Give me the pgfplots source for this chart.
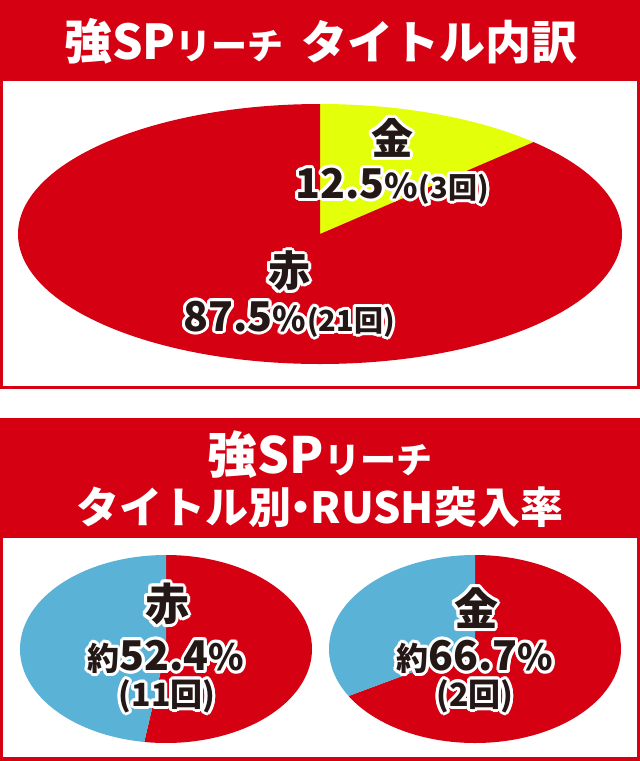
\documentclass[border=0pt]{standalone}
\usepackage{pgfplots}
\pgfplotsset{compat=1.18}
\usepackage{pgfplotstable}
\usepackage{fontspec}
\setmainfont{Noto Sans CJK JP}

\definecolor{spred}{RGB}{213,0,18}
\definecolor{spgold}{RGB}{228,255,10}
\definecolor{spblue}{RGB}{90,178,214}
\definecolor{spink}{RGB}{35,24,21}

% title breakdown (times)
\pgfplotstableread{
label value
gold 3
red 21
}\tabtitle
% RUSH entry, red title: rush / no rush
\pgfplotstableread{
label value
rush 11
none 10
}\tabred
% RUSH entry, gold title
\pgfplotstableread{
label value
rush 2
none 1
}\tabgold

% first-slice end angle (clockwise from 12 o'clock)
\newcommand\pieangle[2]{%
  \pgfplotstablegetelem{0}{value}\of#1\let\va\pgfplotsretval
  \pgfplotstablegetelem{1}{value}\of#1\let\vb\pgfplotsretval
  \pgfmathsetmacro#2{90-360*\va/(\va+\vb)}}

% black label with white rim
\newcommand\halo[2]{%
  \foreach \a in {0,22.5,...,337.5}
    \node[text=white,shift={(\a:3pt)}] at #1 {#2};
  \node[text=spink] at #1 {#2};}

\newcommand\fs[1]{\fontsize{#1}{#1}\selectfont}

\begin{document}
\begin{tikzpicture}
\useasboundingbox (0pt,0pt) rectangle (640pt,-761pt);
\begin{scope}[x=1pt,y=-1pt]
  \fill[white] (0,0) rectangle (640,761);
  \fill[spred] (0,0) rectangle (640,389);
  \fill[white] (3,81) rectangle (637,386);
  \fill[spred] (0,418) rectangle (640,761);
  \fill[white] (3,538) rectangle (637,757);
\end{scope}

\pieangle{\tabtitle}{\angA}
\pieangle{\tabred}{\angB}
\pieangle{\tabgold}{\angC}

\begin{axis}[at={(320pt,-234pt)},anchor=origin,scale only axis,
  width=604pt,height=260pt,xmin=-1,xmax=1,ymin=-1,ymax=1,
  axis lines=none,clip=false]
  \fill[spgold] (axis cs:0,0) -- (axis cs:0,1)
    arc[start angle=90,end angle=\angA,x radius=1,y radius=1] -- cycle;
  \fill[spred] (axis cs:0,0) -- (axis cs:{cos(\angA)},{sin(\angA)})
    arc[start angle=\angA,end angle=-270,x radius=1,y radius=1] -- cycle;
\end{axis}

\begin{axis}[at={(166pt,-649pt)},anchor=origin,scale only axis,
  width=292pt,height=188pt,xmin=-1,xmax=1,ymin=-1,ymax=1,
  axis lines=none,clip=false]
  \fill[spred] (axis cs:0,0) -- (axis cs:0,1)
    arc[start angle=90,end angle=\angB,x radius=1,y radius=1] -- cycle;
  \fill[spblue] (axis cs:0,0) -- (axis cs:{cos(\angB)},{sin(\angB)})
    arc[start angle=\angB,end angle=-270,x radius=1,y radius=1] -- cycle;
\end{axis}

\begin{axis}[at={(475pt,-649pt)},anchor=origin,scale only axis,
  width=292pt,height=188pt,xmin=-1,xmax=1,ymin=-1,ymax=1,
  axis lines=none,clip=false]
  \fill[spred] (axis cs:0,0) -- (axis cs:0,1)
    arc[start angle=90,end angle=\angC,x radius=1,y radius=1] -- cycle;
  \fill[spblue] (axis cs:0,0) -- (axis cs:{cos(\angC)},{sin(\angC)})
    arc[start angle=\angC,end angle=-270,x radius=1,y radius=1] -- cycle;
\end{axis}

\begin{scope}[x=1pt,y=-1pt,every node/.style={inner sep=0pt,font=\bfseries}]
  % titles
  \node[text=white] at (321,41) {\fs{48}強SP\fs{36}リーチ\hspace{18pt}\fs{46}タイトル内訳};
  \node[text=white] at (320,455) {\fs{50}強SP\fs{36}リーチ};
  \node[text=white] at (320,507) {\fs{43}タイトル別\kern-12pt・\kern-12pt RUSH突入率};
  % top pie labels
  \halo{(392,138)}{\fs{42}金}
  \halo{(392,186)}{\fs{41}12.5\fs{34}\%\kern1pt\fs{29}(3回)}
  \halo{(289,271)}{\fs{42}赤}
  \halo{(289,319)}{\fs{41}87.5\fs{34}\%\kern1pt\fs{29}(21回)}
  % bottom pie labels
  \halo{(167,604)}{\fs{44}赤}
  \halo{(166,657)}{\fs{32}約\fs{41}52.4\fs{36}\%}
  \halo{(167,696)}{\fs{32}(11回)}
  \halo{(476,608)}{\fs{44}金}
  \halo{(475,657)}{\fs{32}約\fs{41}66.7\fs{36}\%}
  \halo{(475,696)}{\fs{32}(2回)}
\end{scope}
\end{tikzpicture}
\end{document}
